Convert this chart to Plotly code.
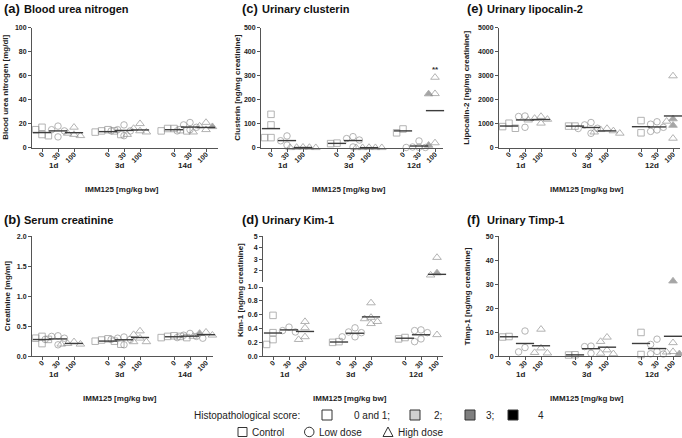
import plotly.graph_objects as go

W, H = 682, 438
FONT = "Liberation Sans, Arial, sans-serif"
AX = "#555555"
EDGE = "#888888"
MEAN = "#3c3c3c"
SCORE_FILL = {1: "rgba(0,0,0,0)", 2: "#d0d0d0", 3: "#7f7f7f", 4: "#000000"}

doses = ["0", "30", "100"]
days_serum = ["1d", "3d", "14d"]
days_urine = ["1d", "3d", "12d"]
dose_symbols = ["square", "circle", "triangle-up"]

# group order: 1d-0, 1d-30, 1d-100, 3d-0, 3d-30, 3d-100, last-0, last-30, last-100
bun = [
    [17, 15, 11, 10, 10],
    [18, 15, 14, 9],
    [17, 12, 11, 10],
    [15, 14, 14, 13, 11],
    [19, 15, 14, 14, 10],
    [20, 16, 14, 13, 11],
    [16, 16, 15, 14, 14],
    [21, 19, 17, 15, 14],
    [21, 18, 17.5, 15, 13],
]
bun_scores = {8: [1, 1, 3, 1, 1]}

creatinine = [
    [0.33, 0.30, 0.28, 0.27, 0.21],
    [0.34, 0.33, 0.30, 0.28, 0.19],
    [0.24, 0.21, 0.20, 0.20],
    [0.29, 0.27, 0.25, 0.25, 0.20],
    [0.32, 0.30, 0.28, 0.28, 0.19],
    [0.42, 0.36, 0.30, 0.24, 0.24],
    [0.34, 0.33, 0.33, 0.31, 0.31],
    [0.38, 0.35, 0.33, 0.31, 0.30],
    [0.40, 0.38, 0.35, 0.33, 0.33],
]
creatinine_scores = {8: [1, 3, 1, 1, 1]}

clusterin = [
    [139, 95, 42, 42],
    [49, 29, 11],
    [2, 1, 1, 0, 0],
    [19, 17],
    [46, 38, 32, 3],
    [1, 0, 0, 0, 0],
    [78, 62],
    [28, 3, 2, 1, 1],
    [293, 225, 224, 20, 10],
]
clusterin_scores = {8: [1, 1, 3, 1, 3]}

kim1 = [
    [0.59, 0.34, 0.24, 0.17],
    [0.42, 0.37, 0.35],
    [0.50, 0.41, 0.28, 0.24],
    [0.21, 0.20],
    [0.41, 0.35, 0.34, 0.28, 0.28],
    [0.77, 0.56, 0.54, 0.50, 0.47],
    [0.27, 0.25],
    [0.38, 0.37, 0.34, 0.25, 0.21],
    [3.14, 1.79, 1.60, 1.50, 0.31],
]
kim1_scores = {8: [1, 3, 1, 3, 1]}

lipocalin = [
    [1020, 880, 810],
    [1320, 1300, 850],
    [1300, 1220, 1180, 1150, 1020],
    [900, 900],
    [1050, 950, 810, 800, 600],
    [800, 750, 700, 650, 600],
    [1130, 620],
    [1080, 980, 850, 740, 680],
    [2990, 1200, 1100, 930, 390],
]
lipocalin_scores = {8: [1, 3, 1, 3, 1]}

timp1 = [
    [8.2, 8.0],
    [10.5, 3.6, 1.8],
    [11.2, 3.4, 1.5, 1.3],
    [0.6, 0.5],
    [4.2, 4.0, 1.2],
    [7.9, 6.1, 2.6, 1.2, 1.0],
    [9.9, 0.7],
    [7.1, 4.9, 2.0, 1.0, 0.9],
    [31.3, 5.6, 1.9, 1.7, 1.0],
]
timp1_scores = {8: [3, 1, 1, 1, 3]}

# layout helpers (pixel -> paper)
UNIT = 16.0          # px per x unit
X0 = 0.375
positions = [1 + d + g * 4.125 for g in range(3) for d in range(3)]


def px_x(px):
    return px / W


def px_y(py):
    return 1 - py / H


panels = [
    dict(letter="(a)", title="Blood urea nitrogen", ytitle="Blood urea nitrogen [mg/dl]",
         vals=bun, scores=bun_scores, days=days_serum, xd=(32, 218), yd=(147.7, 27.7),
         yr=(0, 100), dt=20, fmt="", tx=2, ty=8, yt_x=6),
    dict(letter="(b)", title="Serum creatinine", ytitle="Creatinine [mg/ml]",
         vals=creatinine, scores=creatinine_scores, days=days_serum, xd=(32, 213), yd=(356.2, 236.2),
         yr=(0, 2), dt=0.5, fmt=".1f", tx=2, ty=219, yt_x=7),
    dict(letter="(c)", title="Urinary clusterin", ytitle="Clusterin [ng/mg creatinine]",
         vals=clusterin, scores=clusterin_scores, days=days_urine, xd=(261, 443), yd=(147.7, 27.7),
         yr=(0, 500), dt=100, fmt="", tx=240, ty=8, yt_x=238),
    dict(letter="(d)", title="Urinary Kim-1", ytitle="Kim-1 [ng/mg creatinine]",
         vals=kim1, scores=kim1_scores, days=days_urine, xd=(263, 443), yd=(356.2, 287),
         yr=(0, 1), dt=0.2, fmt=".1f", tx=240, ty=219, yt_x=240),
    dict(letter="(e)", title="Urinary lipocalin-2", ytitle="Lipocalin-2 [ng/mg creatinine]",
         vals=lipocalin, scores=lipocalin_scores, days=days_urine, xd=(499, 680), yd=(147.7, 27.7),
         yr=(0, 5000), dt=1000, fmt="", tx=465, ty=8, yt_x=467),
    dict(letter="(f)", title="Urinary Timp-1", ytitle="Timp-1 [ng/mg creatinine]",
         vals=timp1, scores=timp1_scores, days=days_urine, xd=(499, 681), yd=(356.2, 236.2),
         yr=(0, 50), dt=10, fmt="", tx=465, ty=219, yt_x=467),
]

# Kim-1 upper (broken) segment
KIM_UP_Y = (282, 236.2)
KIM_UP_R = (1, 5)


def dodge(vals, to_px, step=6.4, size=6.2):
    order = sorted(range(len(vals)), key=lambda i: -vals[i])
    placed, offs = [], [0.0] * len(vals)
    for i in order:
        y = to_px(vals[i])
        for k in [0, -1, 1, -2, 2, -3, 3]:
            dx = k * step
            if all((dx - a) ** 2 + (y - b) ** 2 >= size ** 2 for a, b in placed):
                break
        placed.append((dx, y))
        offs[i] = dx / UNIT
    return offs


fig = go.Figure()
axes = {}
ann = []
tick_font = dict(family=FONT, size=7, color="#222", weight="bold")

for n, p in enumerate(panels, start=1):
    sfx = "" if n == 1 else str(n)
    xref, yref = "x" + sfx, "y" + sfx
    ypx = abs(p["yd"][0] - p["yd"][1])
    scale = ypx / (p["yr"][1] - p["yr"][0])
    broken = p["letter"] == "(d)"
    if broken:
        up_scale = abs(KIM_UP_Y[0] - KIM_UP_Y[1]) / (KIM_UP_R[1] - KIM_UP_R[0])

        def to_px(v, s=scale, u=up_scale):
            return v * s if v <= 1 else s + 5 + (v - 1) * u
    else:
        def to_px(v, s=scale):
            return v * s

    lo_x, lo_y, lo_sym, lo_col = [], [], [], []
    up_x, up_y, up_sym, up_col = [], [], [], []
    mean_lo, mean_up = ([], []), ([], [])
    for gi, vals in enumerate(p["vals"]):
        sc = p["scores"].get(gi, [1] * len(vals))
        offs = dodge(vals, to_px)
        sym = dose_symbols[gi % 3]
        for v, o, s in zip(vals, offs, sc):
            if broken and v > 1:
                up_x.append(positions[gi] + o); up_y.append(v); up_sym.append(sym); up_col.append(SCORE_FILL[s])
            else:
                lo_x.append(positions[gi] + o); lo_y.append(v); lo_sym.append(sym); lo_col.append(SCORE_FILL[s])
        m = sum(vals) / len(vals)
        tgt = mean_up if (broken and m > 1) else mean_lo
        tgt[0].append(positions[gi]); tgt[1].append(m)

    def add_points(xs, ys, syms, cols, xa, ya):
        fig.add_trace(go.Scatter(
            x=xs, y=ys, mode="markers", xaxis=xa, yaxis=ya, cliponaxis=False, showlegend=False,
            hoverinfo="skip",
            marker=dict(symbol=syms, color=cols, size=[7.5 if "triangle" in s else 6.5 for s in syms],
                        line=dict(color=EDGE, width=0.9))))

    def add_means(mx, my, xa, ya):
        fig.add_trace(go.Scatter(
            x=mx, y=my, mode="markers", xaxis=xa, yaxis=ya, cliponaxis=False, showlegend=False,
            hoverinfo="skip",
            marker=dict(symbol="line-ew", size=13, line=dict(color=MEAN, width=1.4))))

    add_points(lo_x, lo_y, lo_sym, lo_col, xref, yref)
    add_means(mean_lo[0], mean_lo[1], xref, yref)
    if broken:
        add_points(up_x, up_y, up_sym, up_col, "x7", "y7")
        add_means(mean_up[0], mean_up[1], "x7", "y7")

    width_px = p["xd"][1] - p["xd"][0]
    xr = [X0, X0 + width_px / UNIT]
    axes["xaxis" + sfx] = dict(
        domain=[px_x(p["xd"][0]), px_x(p["xd"][1])], range=xr, anchor=yref,
        tickmode="array", tickvals=positions, ticktext=doses * 3, tickangle=-45,
        ticks="outside", ticklen=3, tickcolor=AX, showline=True, linecolor=AX, linewidth=1,
        showgrid=False, zeroline=False, tickfont=tick_font, automargin=False, fixedrange=True,
        ticklabelstandoff=-4)
    axes["yaxis" + sfx] = dict(
        domain=[px_y(p["yd"][0]), px_y(p["yd"][1])], range=list(p["yr"]), anchor=xref,
        tick0=0, dtick=p["dt"], tickformat=p["fmt"], ticks="outside", ticklen=3, tickcolor=AX,
        showline=True, linecolor=AX, linewidth=1, showgrid=False, zeroline=False,
        tickfont=tick_font, automargin=False, fixedrange=True)
    if broken:
        axes["xaxis7"] = dict(domain=[px_x(p["xd"][0]), px_x(p["xd"][1])], range=xr, anchor="y7",
                              visible=False, showgrid=False, zeroline=False, fixedrange=True)
        axes["yaxis7"] = dict(
            domain=[px_y(KIM_UP_Y[0]), px_y(KIM_UP_Y[1])], range=list(KIM_UP_R), anchor="x7",
            tickmode="array", tickvals=[2, 3, 4, 5], ticks="outside", ticklen=3, tickcolor=AX,
            showline=True, linecolor=AX, linewidth=1, showgrid=False, zeroline=False,
            tickfont=tick_font, automargin=False, fixedrange=True)

    # titles
    ann.append(dict(x=px_x(p["tx"]), y=px_y(p["ty"]), xref="paper", yref="paper", xanchor="left",
                    yanchor="middle", showarrow=False, text="<b>" + p["letter"] + "</b>",
                    font=dict(family=FONT, size=13, color="#111")))
    ann.append(dict(x=px_x(p["tx"] + 20), y=px_y(p["ty"] + 0.5), xref="paper", yref="paper",
                    xanchor="left", yanchor="middle", showarrow=False, text="<b>" + p["title"] + "</b>",
                    font=dict(family=FONT, size=11, color="#111")))
    # y title
    ycen = (p["yd"][0] + p["yd"][1]) / 2 if not broken else 290
    ann.append(dict(x=px_x(p["yt_x"]), y=px_y(ycen), xref="paper", yref="paper", xanchor="center",
                    yanchor="middle", textangle=-90, showarrow=False, text="<b>" + p["ytitle"] + "</b>",
                    font=dict(family=FONT, size=8, color="#222")))
    # day labels and x title
    row_bottom = p["yd"][0]
    for g, day in enumerate(p["days"]):
        ann.append(dict(x=positions[g * 3 + 1] - 0.3, y=px_y(row_bottom + 18), xref=xref, yref="paper",
                        xanchor="center", yanchor="middle", showarrow=False, text="<b>" + day + "</b>",
                        font=dict(family=FONT, size=8, color="#222")))
    ann.append(dict(x=px_x((p["xd"][0] + p["xd"][1]) / 2 - 3), y=px_y(row_bottom + 42), xref="paper",
                    yref="paper", xanchor="center", yanchor="middle", showarrow=False,
                    text="<b>IMM125 [mg/kg bw]</b>", font=dict(family=FONT, size=8, color="#222")))

# significance mark
ann.append(dict(x=positions[8], y=327, xref="x3", yref="y3", showarrow=False, text="<b>**</b>",
                font=dict(family=FONT, size=8, color="#333")))

# legend (bottom)
LEG_FONT = dict(family=FONT, size=10, color="#222")
shapes = []


def leg_text(x, y, t):
    ann.append(dict(x=px_x(x), y=px_y(y), xref="paper", yref="paper", xanchor="left",
                    yanchor="middle", showarrow=False, text=t, font=LEG_FONT))


def leg_box(x0, y0, fill):
    shapes.append(dict(type="rect", xref="paper", yref="paper", x0=px_x(x0), x1=px_x(x0 + 10),
                       y0=px_y(y0 + 10), y1=px_y(y0), fillcolor=fill, line=dict(color="#333", width=1)))


leg_text(192, 415, "Histopathological score:")
leg_box(322, 410, "white")
leg_text(352, 415, "0 and 1;")
leg_box(410, 410, "#d0d0d0")
leg_text(432, 415, "2;")
leg_box(465, 410, "#7f7f7f")
leg_text(484, 415, "3;")
leg_box(508, 410, "#000000")
leg_text(536, 415, "4")

shapes.append(dict(type="rect", xref="paper", yref="paper", x0=px_x(238), x1=px_x(247),
                   y0=px_y(436.5), y1=px_y(427.5), line=dict(color="#333", width=1)))
leg_text(250, 432, "Control")
shapes.append(dict(type="circle", xref="paper", yref="paper", x0=px_x(304.5), x1=px_x(314),
                   y0=px_y(436.7), y1=px_y(427.2), line=dict(color="#333", width=1)))
leg_text(317, 432, "Low dose")
shapes.append(dict(type="path", xref="paper", yref="paper",
                   path=f"M {px_x(383)} {px_y(436.5)} L {px_x(393)} {px_y(436.5)} L {px_x(388)} {px_y(427)} Z",
                   line=dict(color="#333", width=1)))
leg_text(396, 432, "High dose")

fig.update_layout(
    width=W, height=H, margin=dict(l=0, r=0, t=0, b=0), template="none",
    paper_bgcolor="white", plot_bgcolor="white", showlegend=False, hovermode=False,
    font=dict(family=FONT, color="#222"), annotations=ann, shapes=shapes, **axes)

fig.write_html(
    "out.html",
    config={"displayModeBar": False},
    post_script="document.body.style.margin='0';document.body.style.padding='0';"
                "document.documentElement.style.overflow='hidden';",
)
